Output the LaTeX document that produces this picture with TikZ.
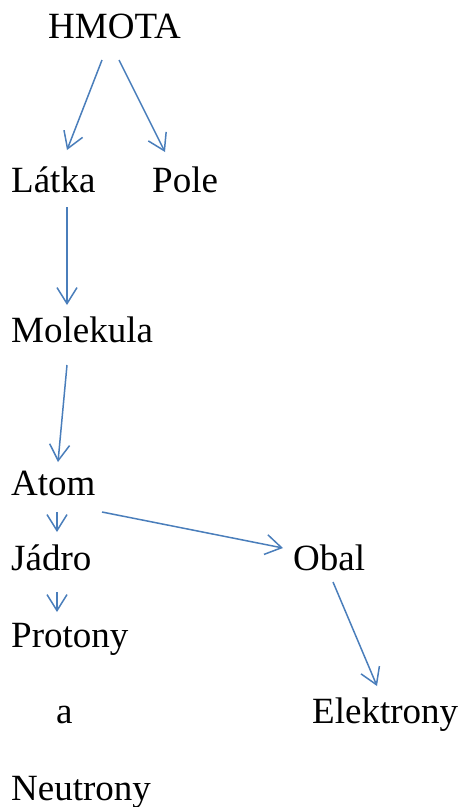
\documentclass[tikz,border=0pt]{standalone}
\usepackage{fontspec}
\setmainfont{Liberation Serif}
\usetikzlibrary{arrows.meta}
\definecolor{linkblue}{RGB}{74,126,187}
\begin{document}
\begin{tikzpicture}[x=1pt,y=-1pt,
  term/.style={anchor=base west,inner sep=0pt,font=\fontsize{37}{41}\selectfont},
  link/.style={draw=linkblue,line width=1.5pt,
    -{Straight Barb[length=16pt,width=20pt,line width=1.5pt]}}]
\useasboundingbox (0,0) rectangle (461,807);
% terms of the hierarchy
\node[term] (hmota) at (48,38) {HMOTA};
\node[term] (latka) at (11,192) {Látka};
\node[term] (pole) at (152,192) {Pole};
\node[term] (molekula) at (11,342) {Molekula};
\node[term] (atom) at (11,495) {Atom};
\node[term] (jadro) at (11,570) {Jádro};
\node[term] (obal) at (293,570) {Obal};
\node[term] (protony) at (11,647) {Protony};
\node[term] (a) at (56,723) {a};
\node[term] (elektrony) at (312,723) {Elektrony};
\node[term] (neutrony) at (11,800) {Neutrony};
% links between them
\draw[link] ([shift={(54,22)}]hmota.base west) -- ([shift={(56,-42)}]latka.base west);
\draw[link] ([shift={(71,22)}]hmota.base west) -- ([shift={(13,-40)}]pole.base west);
\draw[link] ([shift={(56,15)}]latka.base west) -- ([shift={(56,-37)}]molekula.base west);
\draw[link] ([shift={(56,23)}]molekula.base west) -- ([shift={(47,-33)}]atom.base west);
\draw[link] ([shift={(46,17)}]atom.base west) -- ([shift={(46,-38)}]jadro.base west);
\draw[link] ([shift={(91,17)}]atom.base west) -- ([shift={(-10,-22)}]obal.base west);
\draw[link] ([shift={(46,22)}]jadro.base west) -- ([shift={(46,-35)}]protony.base west);
\draw[link] ([shift={(40,12)}]obal.base west) -- ([shift={(65,-37)}]elektrony.base west);
\end{tikzpicture}
\end{document}
